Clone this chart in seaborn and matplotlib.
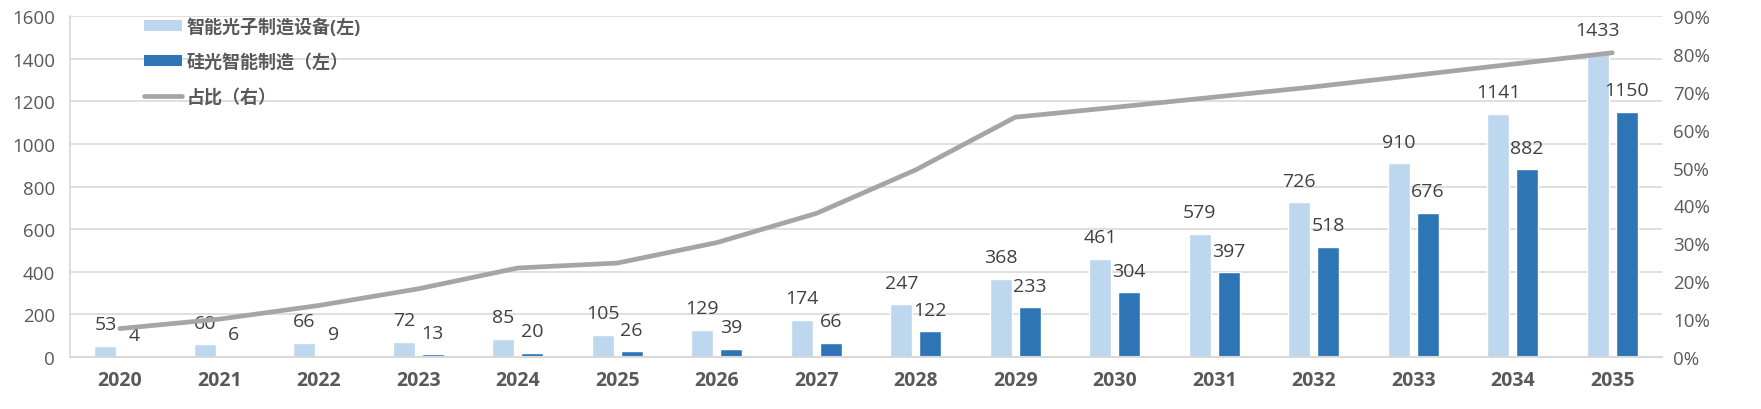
import numpy as np
import pandas as pd
import matplotlib
matplotlib.use("Agg")
import matplotlib.pyplot as plt
import seaborn as sns
from matplotlib.patches import Patch
from matplotlib.lines import Line2D
from matplotlib.ticker import PercentFormatter

years = [str(y) for y in range(2020, 2036)]
photonic_equip = [53, 60, 66, 72, 85, 105, 129, 174, 247, 368, 461, 579, 726, 910, 1141, 1433]
silicon_photonic = [4, 6, 9, 13, 20, 26, 39, 66, 122, 233, 304, 397, 518, 676, 882, 1150]
share = [0.075, 0.10, 0.136, 0.18, 0.235, 0.248, 0.302, 0.379, 0.494, 0.633,
         0.659, 0.686, 0.713, 0.743, 0.773, 0.803]

labels = ["智能光子制造设备(左)", "硅光智能制造（左）", "占比（右）"]
colors = ["#BDD7EE", "#2E75B6", "#A5A5A5"]

sns.set_style("white")
plt.rcParams["font.family"] = ["Open Sans", "Noto Sans CJK SC", "DejaVu Sans"]
text_color = "#595959"

df = pd.DataFrame({
    "year": years * 2,
    "value": photonic_equip + silicon_photonic,
    "series": [labels[0]] * len(years) + [labels[1]] * len(years),
})

fig, ax = plt.subplots(figsize=(17.61, 4.10), dpi=100)
fig.subplots_adjust(left=0.0398, right=0.9438, top=0.9585, bottom=0.1268)

sns.barplot(data=df, x="year", y="value", hue="series", palette=colors[:2],
            width=0.58, gap=0.24, ax=ax, legend=False, saturation=1)

# value labels on top of each bar
for container in ax.containers:
    for bar in container:
        h = bar.get_height()
        ax.annotate(f"{h:.0f}", (bar.get_x() + bar.get_width() / 2, h),
                    xytext=(0, 9), textcoords="offset points",
                    ha="center", va="bottom", fontsize=14, color="#404040")

ax.set_ylim(0, 1600)
ax.set_yticks(range(0, 1601, 200))
ax.grid(axis="y", color="#D9D9D9", linewidth=1.2)
ax.set_axisbelow(True)
ax.set_xlabel("")
ax.set_ylabel("")
for side in ["top", "right"]:
    ax.spines[side].set_visible(False)
ax.spines["left"].set_color("#D9D9D9")
ax.spines["bottom"].set_color("#D9D9D9")
ax.spines["left"].set_linewidth(1.2)
ax.spines["bottom"].set_linewidth(1.5)
ax.tick_params(axis="y", length=0, pad=11, labelsize=13.5, labelcolor=text_color)
ax.tick_params(axis="x", length=0, pad=9, labelcolor=text_color)

ax2 = ax.twinx()
sns.lineplot(x=np.arange(len(years)), y=share, ax=ax2, color=colors[2],
             linewidth=3.4)
ax2.set_ylim(0, 0.9)
ax2.set_yticks(np.arange(0, 0.91, 0.1))
ax2.yaxis.set_major_formatter(PercentFormatter(1.0, decimals=0))
for side in ["top", "right", "left", "bottom"]:
    ax2.spines[side].set_visible(False)
ax2.tick_params(axis="y", length=0, pad=8, labelsize=13.5, labelcolor=text_color)
ax2.set_ylabel("")
ax2.grid(False)

ax.set_xlim(-0.5, len(years) - 0.5)
ax.set_xticks(range(len(years)))
ax.set_xticklabels(years, fontsize=14, fontweight="bold", color=text_color)

handles = [
    Patch(facecolor=colors[0], edgecolor="none"),
    Patch(facecolor=colors[1], edgecolor="none"),
    Line2D([0], [0], color=colors[2], linewidth=3.4),
]
leg = fig.legend(handles, labels, loc="upper left", bbox_to_anchor=(0.0725, 0.995),
                 frameon=False, fontsize=13, labelspacing=0.95,
                 handlelength=2.1, handleheight=0.6, handletextpad=0.25)
for t in leg.get_texts():
    t.set_fontweight("bold")
    t.set_color(text_color)

fig.savefig("out.png", dpi=100)
